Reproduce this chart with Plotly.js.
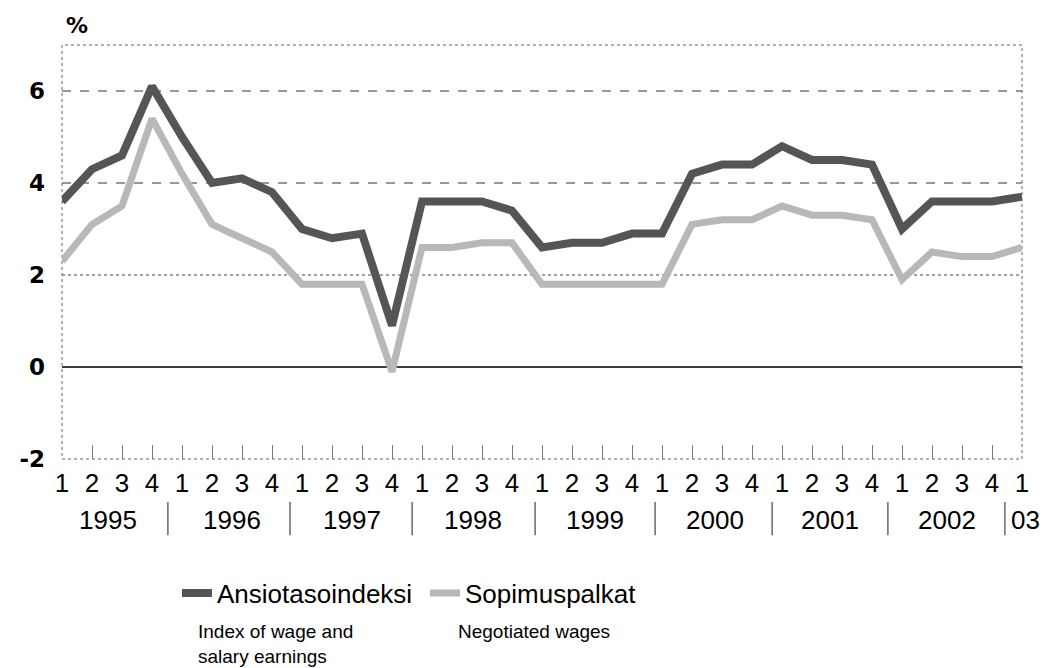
<!DOCTYPE html>
<html>
<head>
<meta charset="utf-8">
<script src="https://cdn.plot.ly/plotly-3.0.1.min.js"></script>
<style>html,body{margin:0;padding:0;background:#fff;}#chart{width:1044px;height:668px;}</style>
</head>
<body>
<div id="chart"></div>
<script>
// Quarter tick labels, 1995Q1 .. 2003Q1
const quarterLabels = ["1","2","3","4","1","2","3","4","1","2","3","4","1","2","3","4",
  "1","2","3","4","1","2","3","4","1","2","3","4","1","2","3","4","1"];
const yearLabels = ["1995","1996","1997","1998","1999","2000","2001","2002","03"];
// Ansiotasoindeksi (Index of wage and salary earnings), % change
const ansiotaso = [3.6,4.3,4.6,6.1,5.0,4.0,4.1,3.8,3.0,2.8,2.9,0.9,3.6,3.6,3.6,3.4,
  2.6,2.7,2.7,2.9,2.9,4.2,4.4,4.4,4.8,4.5,4.5,4.4,3.0,3.6,3.6,3.6,3.7];
// Sopimuspalkat (Negotiated wages), % change
const sopimus = [2.3,3.1,3.5,5.4,4.2,3.1,2.8,2.5,1.8,1.8,1.8,-0.1,2.6,2.6,2.7,2.7,
  1.8,1.8,1.8,1.8,1.8,3.1,3.2,3.2,3.5,3.3,3.3,3.2,1.9,2.5,2.4,2.4,2.6];
const yTicks = [-2,0,2,4,6];

// layout placement (in quarter-index units) for year labels and separators
const yearPos = [1.53,5.67,9.67,13.7,17.77,21.77,25.6,29.5,32.1];
const sepPos = [3.53,7.6,11.67,15.77,19.77,23.67,27.53,31.43];

const xIdx = quarterLabels.map((_, i) => i);
const FONT = "Liberation Sans, Arial, sans-serif";
const XMAX = quarterLabels.length - 1;

const traces = [
  {x: xIdx, y: ansiotaso, type: "scatter", mode: "lines", name: "Ansiotasoindeksi",
   line: {color: "#555555", width: 8}, legend: "legend"},
  {x: xIdx, y: sopimus, type: "scatter", mode: "lines", name: "Sopimuspalkat",
   line: {color: "#b8b8b8", width: 7}, legend: "legend2"}
];

const shapes = [
  {type: "line", xref: "paper", x0: 0, x1: 1, yref: "y", y0: 6, y1: 6, layer: "below",
   line: {color: "#333", width: 1.2, dash: "dash"}},
  {type: "line", xref: "paper", x0: 0, x1: 1, yref: "y", y0: 4, y1: 4, layer: "below",
   line: {color: "#333", width: 1.2, dash: "dash"}},
  {type: "line", xref: "paper", x0: 0, x1: 1, yref: "y", y0: 2, y1: 2, layer: "below",
   line: {color: "#444", width: 1, dash: "dot"}},
  {type: "line", xref: "paper", x0: 0, x1: 1, yref: "y", y0: 0, y1: 0, layer: "below",
   line: {color: "#000", width: 1.5}},
  {type: "rect", xref: "paper", yref: "paper", x0: 0, x1: 1, y0: 0, y1: 1, layer: "below",
   line: {color: "#666", width: 1, dash: "dot"}}
];
sepPos.forEach(p => shapes.push({type: "line", xref: "x", yref: "paper", x0: p, x1: p,
  y0: -0.104, y1: -0.184, line: {color: "#444", width: 1.2}}));

// year labels: placed in paper coordinates (converted from quarter-index units)
const annotations = yearLabels.map((t, i) => ({
  text: t, x: yearPos[i] / XMAX, xref: "paper", y: -0.147, yref: "paper",
  xanchor: "center", yanchor: "middle", showarrow: false,
  font: {family: FONT, size: 26, color: "#000"}
}));
annotations.push({text: "<b>%</b>", x: 0.0156, xref: "paper", y: 1.046, yref: "paper",
  xanchor: "center", yanchor: "middle", showarrow: false,
  font: {family: "DejaVu Sans, sans-serif", size: 22, color: "#000"}});
annotations.push({text: "Index of wage and<br>salary earnings", x: (196-62)/960, xref: "paper",
  y: (459-619)/414, yref: "paper", xanchor: "left", yanchor: "top", align: "left",
  showarrow: false, font: {family: FONT, size: 19, color: "#000"}});
annotations.push({text: "Negotiated wages", x: (456-62)/960, xref: "paper",
  y: (459-619)/414, yref: "paper", xanchor: "left", yanchor: "top", align: "left",
  showarrow: false, font: {family: FONT, size: 19, color: "#000"}});

const layout = {
  width: 1044, height: 668,
  margin: {l: 62, r: 22, t: 45, b: 209},
  paper_bgcolor: "#fff", plot_bgcolor: "#fff",
  showlegend: true,
  legend: {orientation: "h", x: (177-62)/960, xanchor: "left", y: (459-593)/414, yanchor: "middle",
    font: {family: FONT, size: 26, color: "#000"}, bgcolor: "rgba(0,0,0,0)", borderwidth: 0},
  legend2: {orientation: "h", x: (425-62)/960, xanchor: "left", y: (459-593)/414, yanchor: "middle",
    font: {family: FONT, size: 26, color: "#000"}, bgcolor: "rgba(0,0,0,0)", borderwidth: 0},
  xaxis: {
    range: [0, XMAX], tickvals: xIdx, ticktext: quarterLabels,
    showgrid: false, zeroline: false, showline: false,
    ticks: "inside", ticklen: 14, tickcolor: "#777", tickwidth: 1,
    ticklabelstandoff: 6,
    tickfont: {family: FONT, size: 26, color: "#000"}, fixedrange: true
  },
  yaxis: {
    range: [-2, 7], tickvals: yTicks, ticktext: yTicks.map(String),
    showgrid: false, zeroline: false, showline: false, ticks: "",
    ticklabelstandoff: 16,
    tickfont: {family: "DejaVu Sans, sans-serif", size: 23, color: "#000", weight: "bold"},
    fixedrange: true
  },
  shapes: shapes,
  annotations: annotations
};

Plotly.newPlot("chart", traces, layout, {displayModeBar: false, staticPlot: true});
</script>
</body>
</html>
